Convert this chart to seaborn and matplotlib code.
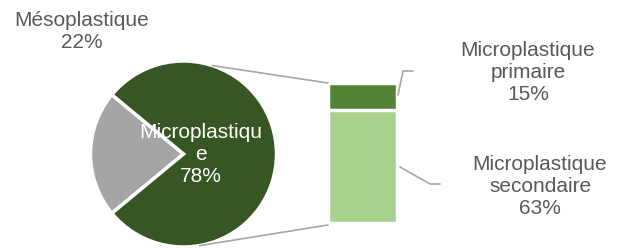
import numpy as np
import matplotlib
matplotlib.use("Agg")
import matplotlib.pyplot as plt
import seaborn as sns
import pandas as pd

# ---- data ----
pie_labels = ["Mésoplastique", "Microplastique"]
pie_values = [22, 78]
pie_colors = ["#A5A5A5", "#375623"]

bar_labels = ["Microplastique primaire", "Microplastique secondaire"]
bar_values = [15, 63]
bar_colors = ["#548235", "#A9D18E"]

sns.set_theme(style="white")
plt.rcParams['font.family'] = ['Liberation Sans', 'DejaVu Sans']

W, H = 627, 248
fig = plt.figure(figsize=(W / 100, H / 100), dpi=100)
ax = fig.add_axes([0, 0, 1, 1])
ax.set_xlim(0, W)
ax.set_ylim(0, H)
ax.axis("off")

# pie geometry (pixel coords, y up)
cx, cy, r = 183.5, 94, 93
meso_frac = pie_values[0] / sum(pie_values)
start = 180 - meso_frac * 360 / 2
ax.pie(pie_values, colors=pie_colors, startangle=start, counterclock=True,
       center=(cx, cy), radius=r, frame=True,
       wedgeprops=dict(edgecolor="white", linewidth=2.5))
ax.set_xlim(0, W)
ax.set_ylim(0, H)
ax.set_aspect("equal")
ax.axis("off")

txt = "#595959"
fs = 15
ax.text(82, H - 32, f"{pie_labels[0]}\n{pie_values[0]}%", ha="center", va="center",
        color=txt, fontsize=fs)
ax.text(201, H - 154, "Microplastiqu\ne\n" + f"{pie_values[1]}%", ha="center", va="center",
        color="white", fontsize=fs)

# bar geometry
bx0, bx1 = 328, 397
by_top, by_bot = H - 83, H - 223
bax = fig.add_axes([bx0 / W, by_bot / H, (bx1 - bx0) / W, (by_top - by_bot) / H])
total = sum(bar_values)
df_tot = pd.DataFrame({"x": ["a"], "v": [total]})
df_sec = pd.DataFrame({"x": ["a"], "v": [bar_values[1]]})
sns.barplot(data=df_tot, x="x", y="v", color=bar_colors[0], saturation=1, width=1.0,
            edgecolor="white", linewidth=2.5, ax=bax)
sns.barplot(data=df_sec, x="x", y="v", color=bar_colors[1], saturation=1, width=1.0,
            edgecolor="white", linewidth=2.5, ax=bax)
bax.set_xlim(-0.5, 0.5)
bax.set_ylim(0, total)
bax.axis("off")

# connector lines pie -> bar
lc = "#A6A6A6"
a_top = np.deg2rad(72)
a_bot = np.deg2rad(-80)
ax.plot([cx + r * np.cos(a_top), bx0], [cy + r * np.sin(a_top), by_top], color=lc, lw=1.2)
ax.plot([cx + r * np.cos(a_bot), bx0], [cy + r * np.sin(a_bot), by_bot - 2], color=lc, lw=1.2)

# leader lines for bar labels
ax.plot([398, 403, 413], [H - 95, H - 71, H - 71], color=lc, lw=1.2)
ax.plot([400, 430, 440], [H - 167, H - 184, H - 184], color=lc, lw=1.2)

ax.text(528, H - 72, "Microplastique\nprimaire\n" + f"{bar_values[0]}%", ha="center",
        va="center", color=txt, fontsize=fs)
ax.text(540, H - 186, "Microplastique\nsecondaire\n" + f"{bar_values[1]}%", ha="center",
        va="center", color=txt, fontsize=fs)

fig.savefig("out.png", dpi=100, facecolor="white")
